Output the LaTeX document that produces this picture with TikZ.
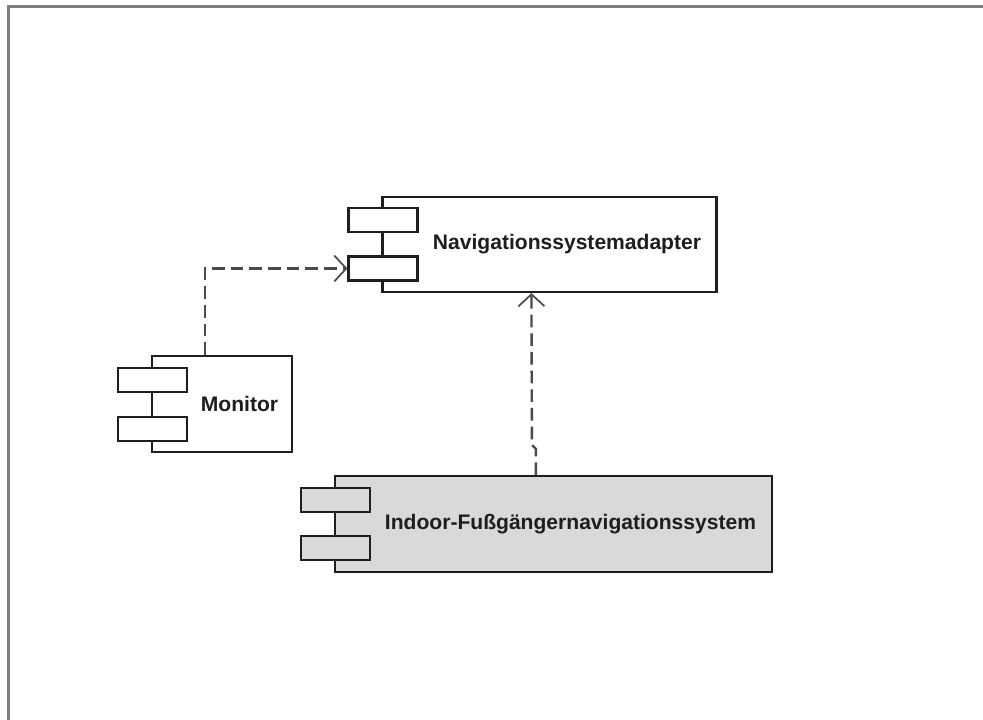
\documentclass[tikz,border=0pt]{standalone}
\usepackage{fontspec}
\setmainfont{Liberation Sans}
\usetikzlibrary{arrows.meta,calc}
\definecolor{framegray}{HTML}{7F7F7F}
\definecolor{compgray}{HTML}{D9D9D9}
\definecolor{inkdark}{HTML}{1E1E1E}
\begin{document}
\begin{tikzpicture}[x=0.75pt,y=-0.75pt,
  comp/.style={draw=inkdark,line width=1.6pt,fill=white,minimum height=72pt,inner sep=0pt},
  port/.style={draw=inkdark,line width=1.6pt,fill=white,minimum width=51.75pt,minimum height=18pt,inner sep=0pt},
  label/.style={font=\bfseries\fontsize{15.8}{18}\selectfont,text=inkdark,inner sep=0pt},
  dep/.style={draw=inkdark!80,line width=1.8pt,dash pattern=on 9.5pt off 4.5pt,
    -{Straight Barb[length=9pt,width=19.5pt,line width=1.3pt]}}]
  \useasboundingbox (0,0) rectangle (983,720);
  \fill[white] (0,0) rectangle (983,720);
  % window frame
  \draw[framegray,line width=2.25pt] (983,7) -- (8,7) -- (8,720);

  % Navigationssystemadapter
  \node[comp,minimum width=250.5pt,minimum height=71.25pt] (nav) at (549.5,244.5) {};
  \node[port] (navp1) at (383,220) {};
  \node[port] (navp2) at (383,268.5) {};
  \node[label] (navl) at (567,244.5) {Navigationssystemadapter};

  % Monitor
  \node[comp,minimum width=105pt] (mon) at (222,404) {};
  \node[port] (monp1) at (152.5,380) {};
  \node[port] (monp2) at (152.5,429) {};
  \node[label] (monl) at (239.5,404) {Monitor};

  % Indoor-Fussgaengernavigationssystem
  \node[comp,fill=compgray,minimum width=327.75pt] (ind) at (553.5,524) {};
  \node[port,fill=compgray] (indp1) at (335.5,500) {};
  \node[port,fill=compgray] (indp2) at (335.5,548) {};
  \node[label] (indl) at (570.5,524) {Indoor-Fußgängernavigationssystem};

  % dependencies
  \draw[dep] ($(mon.north west)+(54,0)$) |- (navp2.west);
  \draw[dep] ($(ind.north west)+(202,0)$) -- ++(0,-26) -- ++(-4,-4)
    -- ($(nav.south west)+(150,0)$);
\end{tikzpicture}
\end{document}
